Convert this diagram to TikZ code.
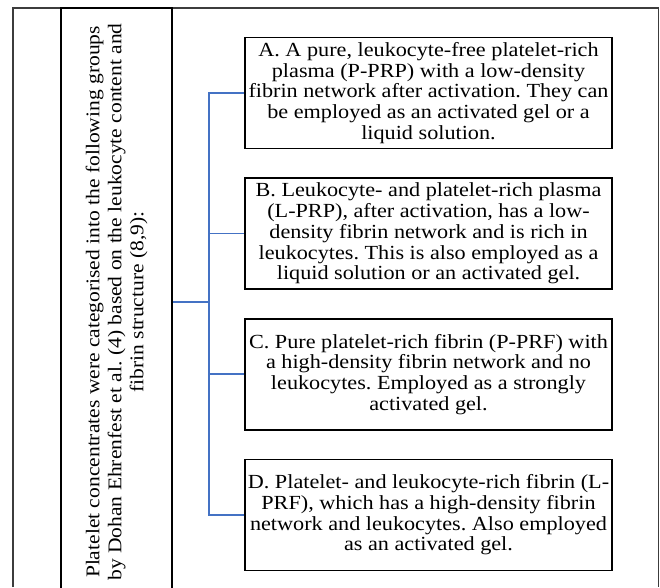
\documentclass[tikz,border=0pt]{standalone}
\usepackage{fontspec}
\setmainfont{Liberation Serif}[FakeStretch=1.11]
\usetikzlibrary{positioning}
\definecolor{linkblue}{RGB}{68,114,196}
\definecolor{framegray}{RGB}{60,60,60}
\frenchspacing

\begin{document}
\begin{tikzpicture}[x=1pt,y=1pt,node distance=28pt,
			box node/.style={rectangle,draw,line width=1.6pt,minimum height=111pt,minimum width=367pt,
				align=center,inner sep=1pt,font=\fontsize{20}{20.7}\selectfont},
			link/.style={draw=linkblue,line width=1.6pt}]
			
			\useasboundingbox (0,0) rectangle (660,587);
			\draw[framegray,line width=1.2pt] (13,0) -- (13,579) -- (658.5,579) -- (658.5,0);
			
			\node[draw,line width=1.6pt,rotate=90,minimum width=588pt,minimum height=111pt,align=center,
				font=\fontsize{19.4}{22}\selectfont] (groups) at (116.5,285)
				{Platelet concentrates were categorised into the following groups\\
				by Dohan Ehrenfest et al. (4) based on the leukocyte content and\\
				fibrin structure (8,9):};
			
			\node[box node] (A) at (428.5,494) {A. A pure, leukocyte-free platelet-rich\\ plasma (P-PRP) with a low-density\\ fibrin network after activation. They can\\ be employed as an activated gel or a\\ liquid solution.};
			\node[box node] (B) [below=of A] {B. Leukocyte- and platelet-rich plasma\\ (L-PRP), after activation, has a low-\\ density fibrin network and is rich in\\ leukocytes. This is also employed as a\\ liquid solution or an activated gel.};
			\node[box node] (C) [below=of B] {C. Pure platelet-rich fibrin (P-PRF) with\\ a high-density fibrin network and no\\ leukocytes. Employed as a strongly\\ activated gel.};
			\node[box node] (D) [below=of C] {D. Platelet- and leukocyte-rich fibrin (L-\\ PRF), which has a high-density fibrin\\ network and leukocytes. Also employed\\ as an activated gel.};
			
			\coordinate (hub) at (209,285);
			\draw[link] (groups.south) -- (hub);
			\foreach \n in {A,B,C,D}
				\draw[link] (\n.west) -| (hub);
			
			\end{tikzpicture}
\end{document}
